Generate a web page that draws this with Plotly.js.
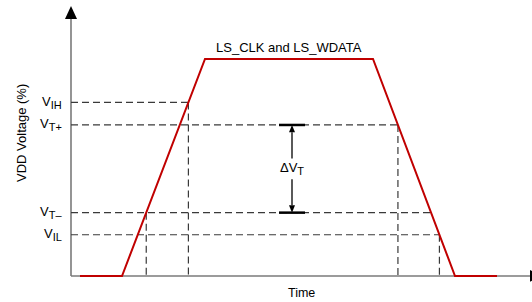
<!DOCTYPE html>
<html>
<head>
<meta charset="utf-8">
<script src="https://cdn.plot.ly/plotly-3.0.1.min.js"></script>
<style>html,body{margin:0;padding:0;background:#fff;}#chart{width:532px;height:302px;}</style>
</head>
<body>
<div id="chart"></div>
<script>
// ---- data ----
const waveTime = [9, 51, 134, 302, 384, 426];          // time (arbitrary units)
const waveVoltage = [0, 0, 100, 100, 0, 0];            // VDD voltage (%)
const signalName = 'LS_CLK and LS_WDATA';
const thresholdNames = ['IH', 'T+', 'T–', 'IL'];        // subscripts of V
const thresholdLevels = [80, 69.6, 29.2, 19];          // VDD voltage (%)
const hLineEdge = ['rise', 'fall', 'fall', 'fall'];    // horizontal dashed line runs to this edge
const vLineEdge = ['rise', 'fall', 'rise', 'fall'];    // vertical dashed line drops from this edge
const hysteresisName = 'T';
const xTitle = 'Time';
const yTitle = 'VDD Voltage (%)';

// ---- layout constants ----
const FONT = 'Liberation Sans, Arial, sans-serif';
const pxPerPct = 2.17;
const xRange = [-71, 461];
const yRange = [-26 / pxPerPct, 276 / pxPerPct];
const dashColor = '#3a3a3a';
const axisColor = '#7a7a7a';
const red = '#C00000';

function subLabel(main, sub) {
  return main + '<sub><span style="font-size:11px">' + sub + '</span></sub>';
}

function crossing(level, edge) {
  const i = edge === 'rise' ? 1 : 3;
  const t0 = waveTime[i], t1 = waveTime[i + 1];
  const v0 = waveVoltage[i], v1 = waveVoltage[i + 1];
  return t0 + (level - v0) / (v1 - v0) * (t1 - t0);
}

const shapes = [];
// axes
shapes.push({type: 'line', xref: 'x', yref: 'y', x0: 0, x1: 0, y0: 0, y1: 118.5, layer: 'below',
  line: {color: axisColor, width: 1.6}});
shapes.push({type: 'line', xref: 'x', yref: 'y', x0: 0, x1: 460, y0: 0, y1: 0, layer: 'below',
  line: {color: axisColor, width: 1.6}});
shapes.push({type: 'path', xref: 'x', yref: 'y', path: 'M -6,118.4 L 6,118.4 L 0,124.4 Z',
  fillcolor: '#000', line: {width: 0}});
shapes.push({type: 'path', xref: 'x', yref: 'y', path: 'M 459,2.8 L 459,-2.6 L 471,0 Z',
  fillcolor: '#000', line: {width: 0}});

// threshold dashed lines
thresholdLevels.forEach((lv, k) => {
  shapes.push({type: 'line', xref: 'x', yref: 'y', x0: 0, x1: crossing(lv, hLineEdge[k]), y0: lv, y1: lv,
    layer: 'below', line: {color: dashColor, width: 1.2, dash: '7px,4px'}});
  const tv = crossing(lv, vLineEdge[k]);
  shapes.push({type: 'line', xref: 'x', yref: 'y', x0: tv, x1: tv, y0: lv, y1: 0,
    layer: 'below', line: {color: dashColor, width: 1.2, dash: '7px,4px'}});
});

// hysteresis marker: bars, shafts and arrowheads
const tMid = 221, barHalf = 13, headHalf = 3, headLen = 3.4, gap = 4.8;
const vTop = thresholdLevels[1], vBot = thresholdLevels[2];
const vMid = (vTop + vBot) / 2;
[vTop, vBot].forEach(v => {
  shapes.push({type: 'line', xref: 'x', yref: 'y', x0: tMid - barHalf, x1: tMid + barHalf, y0: v, y1: v,
    line: {color: '#000', width: 2.5}});
});
shapes.push({type: 'line', xref: 'x', yref: 'y', x0: tMid, x1: tMid, y0: vTop - headLen, y1: vMid + gap,
  line: {color: '#000', width: 1.3}});
shapes.push({type: 'line', xref: 'x', yref: 'y', x0: tMid, x1: tMid, y0: vBot + headLen, y1: vMid - gap,
  line: {color: '#000', width: 1.3}});
shapes.push({type: 'path', xref: 'x', yref: 'y',
  path: `M ${tMid - headHalf},${vTop - headLen} L ${tMid + headHalf},${vTop - headLen} L ${tMid},${vTop} Z`,
  fillcolor: '#000', line: {width: 0}});
shapes.push({type: 'path', xref: 'x', yref: 'y',
  path: `M ${tMid - headHalf},${vBot + headLen} L ${tMid + headHalf},${vBot + headLen} L ${tMid},${vBot} Z`,
  fillcolor: '#000', line: {width: 0}});

const annotations = [];
thresholdNames.forEach((nm, k) => {
  annotations.push({x: -7, y: thresholdLevels[k], xref: 'x', yref: 'y', text: subLabel('V', nm), showarrow: false,
    xanchor: 'right', yanchor: 'middle', font: {family: FONT, size: 13, color: '#000'}});
});
annotations.push({x: tMid, y: vMid, xref: 'x', yref: 'y', text: subLabel('ΔV', hysteresisName), showarrow: false,
  xanchor: 'center', yanchor: 'middle', font: {family: FONT, size: 13, color: '#000'}});
annotations.push({x: (waveTime[2] + waveTime[3]) / 2, y: 100 + 5.5, xref: 'x', yref: 'y', text: signalName,
  showarrow: false, xanchor: 'center', yanchor: 'middle', font: {family: FONT, size: 13, color: '#000'}});
annotations.push({x: 230, y: -8, xref: 'x', yref: 'y', text: xTitle, showarrow: false,
  xanchor: 'center', yanchor: 'middle', font: {family: FONT, size: 12.5, color: '#000'}});
annotations.push({x: -50, y: (276 - 133) / pxPerPct, xref: 'x', yref: 'y', text: yTitle, showarrow: false,
  textangle: -90, xanchor: 'center', yanchor: 'middle', font: {family: FONT, size: 13, color: '#000'}});

const traces = [{
  x: waveTime, y: waveVoltage, type: 'scatter', mode: 'lines',
  line: {color: red, width: 2}, hoverinfo: 'skip', cliponaxis: false
}];

const hiddenAxis = {visible: true, showticklabels: false, showgrid: false, zeroline: false,
  showline: false, ticks: '', fixedrange: true};

const layout = {
  width: 532, height: 302,
  margin: {l: 0, r: 0, t: 0, b: 0, pad: 0},
  paper_bgcolor: '#fff', plot_bgcolor: '#fff',
  showlegend: false,
  xaxis: Object.assign({range: xRange}, hiddenAxis),
  yaxis: Object.assign({range: yRange}, hiddenAxis),
  shapes: shapes,
  annotations: annotations,
  font: {family: FONT}
};

Plotly.newPlot('chart', traces, layout, {displayModeBar: false});
</script>
</body>
</html>
